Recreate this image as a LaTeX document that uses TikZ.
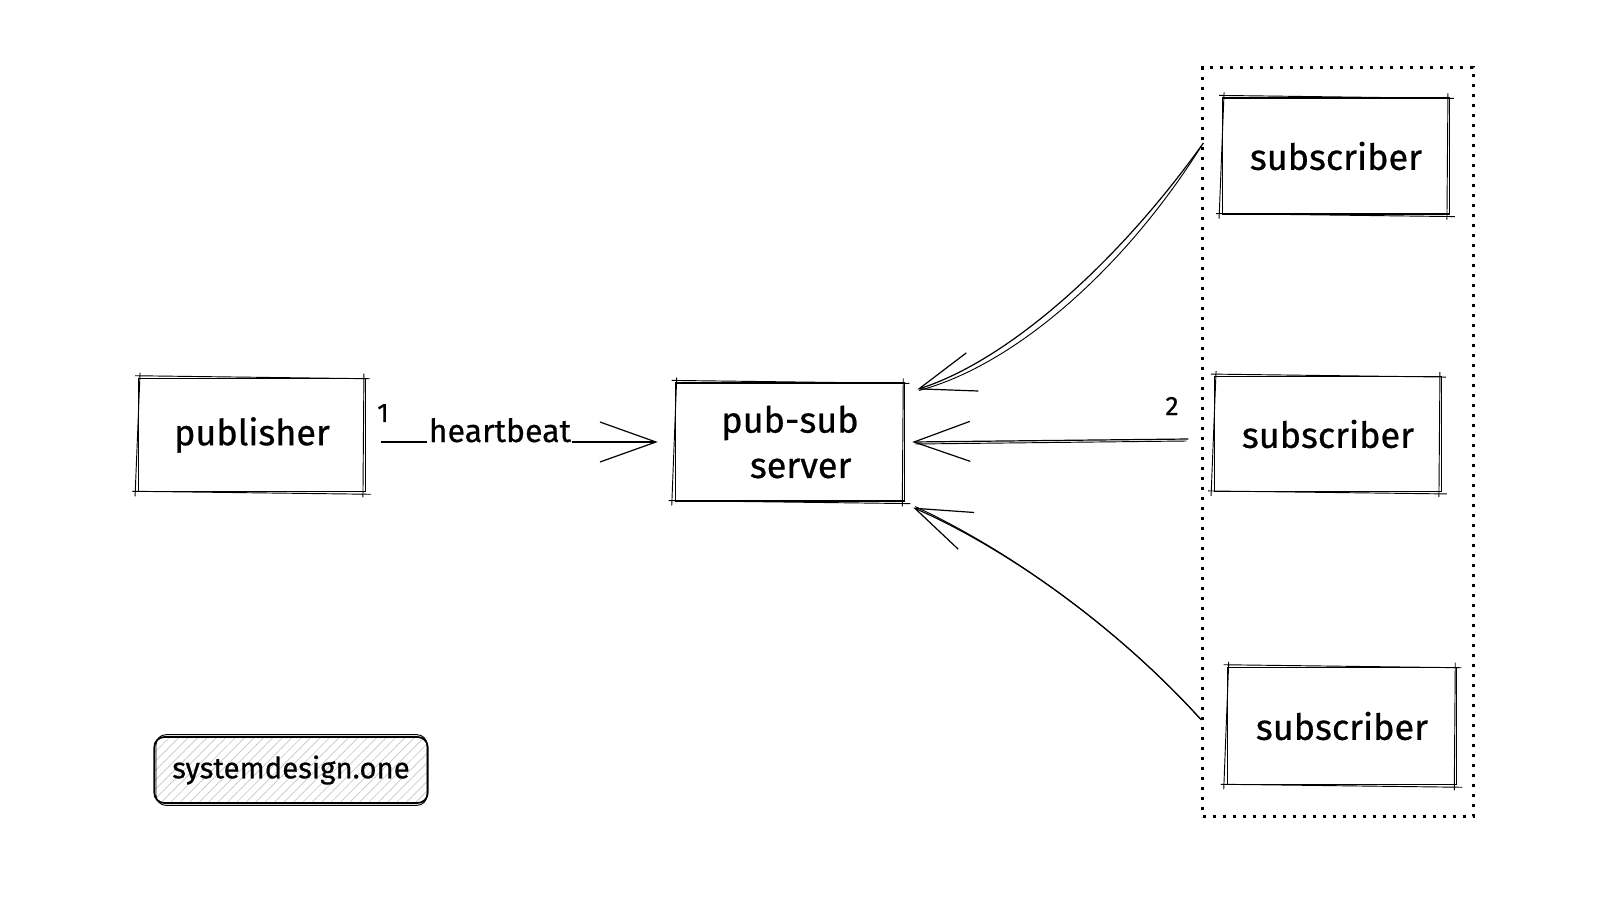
\documentclass[tikz,border=0pt]{standalone}
\usepackage{fontspec}
\setmainfont{Fira Sans}[FakeBold=0.6]
\usetikzlibrary{arrows.meta,patterns.meta,calc}
\tikzset{
  box/.style={draw, line width=0.9pt, inner sep=0pt, font=\fontsize{27}{32}\selectfont, align=center},
  rough/.style={line width=0.7pt},
  grp/.style={draw, line width=1.9pt, dash pattern=on 2.5pt off 5pt, inner sep=0pt},
  conn/.style={line width=0.9pt, -{Straight Barb[length=42pt,width=30pt,line width=0.9pt]}},
  connb/.style={line width=0.7pt},
  num/.style={font=\fontsize{20}{24}\selectfont, inner sep=0pt},
  hb/.style={font=\fontsize{24}{28}\selectfont, fill=white, inner sep=1pt, anchor=base},
  logo/.style={draw, line width=1.3pt, rounded corners=7.5pt, inner sep=0pt,
    pattern={Lines[angle=45,distance=5pt,line width=0.5pt]}, pattern color=gray!45,
    font=\fontsize{22}{26}\selectfont}
}
\newcommand\roughbox[1]{%
  \draw[rough] ($(#1.north west)+(-3,-2)$) -- ($(#1.north east)+(4,1)$);
  \draw[rough] ($(#1.north east)+(-2,-4)$) -- ($(#1.south east)+(-3,5)$);
  \draw[rough] ($(#1.south east)+(5,2)$) -- ($(#1.south west)+(-6,-1)$);
  \draw[rough] ($(#1.south west)+(-3,4)$) -- ($(#1.north west)+(2,-5)$);
}
\begin{document}
\begin{tikzpicture}[x=0.75pt,y=-0.75pt]
\useasboundingbox[fill=white] (0,0) rectangle (1600,907);

% dashed group
\node[grp, minimum width=203pt, minimum height=562pt] (group) at (1338,442) {};

% boxes
\node[box, minimum width=170pt, minimum height=85pt] (pub) at (252,435) {publisher};
\roughbox{pub}
\node[box, minimum width=172pt, minimum height=88.5pt] (ps) at (790,442) {pub-sub\\[2pt]\hspace*{16pt}server};
\roughbox{ps}
\node[box, minimum width=170pt, minimum height=87pt] (sub1) at (1336,156) {subscriber};
\roughbox{sub1}
\node[box, minimum width=170pt, minimum height=86pt] (sub2) at (1328,434) {subscriber};
\roughbox{sub2}
\node[box, minimum width=172pt, minimum height=88pt] (sub3) at (1342,726) {subscriber};
\roughbox{sub3}

% logo
\node[logo, minimum width=205pt, minimum height=49.5pt] (logo) at (291,770) {systemdesign.one};
\draw[rough, rounded corners=7.5pt] ($(logo.north west)+(2,-2)$) rectangle ($(logo.south east)+(-1,2)$);

% labels
\node[num] (l1) at (383,413) {1};
\node[num] (l2) at (1172,406) {2};

% heartbeat
\draw[connb] ($(pub.east|-ps.west)+(17,-1)$) -- ($(ps.west)+(-22,-1)$);
\draw[conn] ($(pub.east|-ps.west)+(15,0)$) -- node[hb, pos=0.43] (hbl) {heartbeat} ($(ps.west)+(-17,0)$);

% subscriber arrows
\draw[connb] ($(group.west|-sub1.west)+(0,-10)$) .. controls (1125,268) and (1015,365) .. ($(ps.north east)+(14,8)$);
\draw[conn] ($(group.west|-sub1.west)+(2,-13)$) .. controls (1120,260) and (1010,360) .. ($(ps.north east)+(12,7)$);

\draw[connb] ($(group.west|-sub2.west)+(-15,7)$) -- ($(ps.east)+(10,2)$);
\draw[conn] ($(group.west|-sub2.west)+(-13,5)$) -- ($(ps.east)+(7,0)$);

\draw[connb] ($(group.west|-sub3.west)+(-2,-8)$) .. controls (1115,625) and (1005,548) .. ($(ps.south east)+(10,5)$);
\draw[conn] ($(group.west|-sub3.west)+(0,-6)$) .. controls (1120,630) and (1010,550) .. ($(ps.south east)+(8,6)$);
\end{tikzpicture}
\end{document}
